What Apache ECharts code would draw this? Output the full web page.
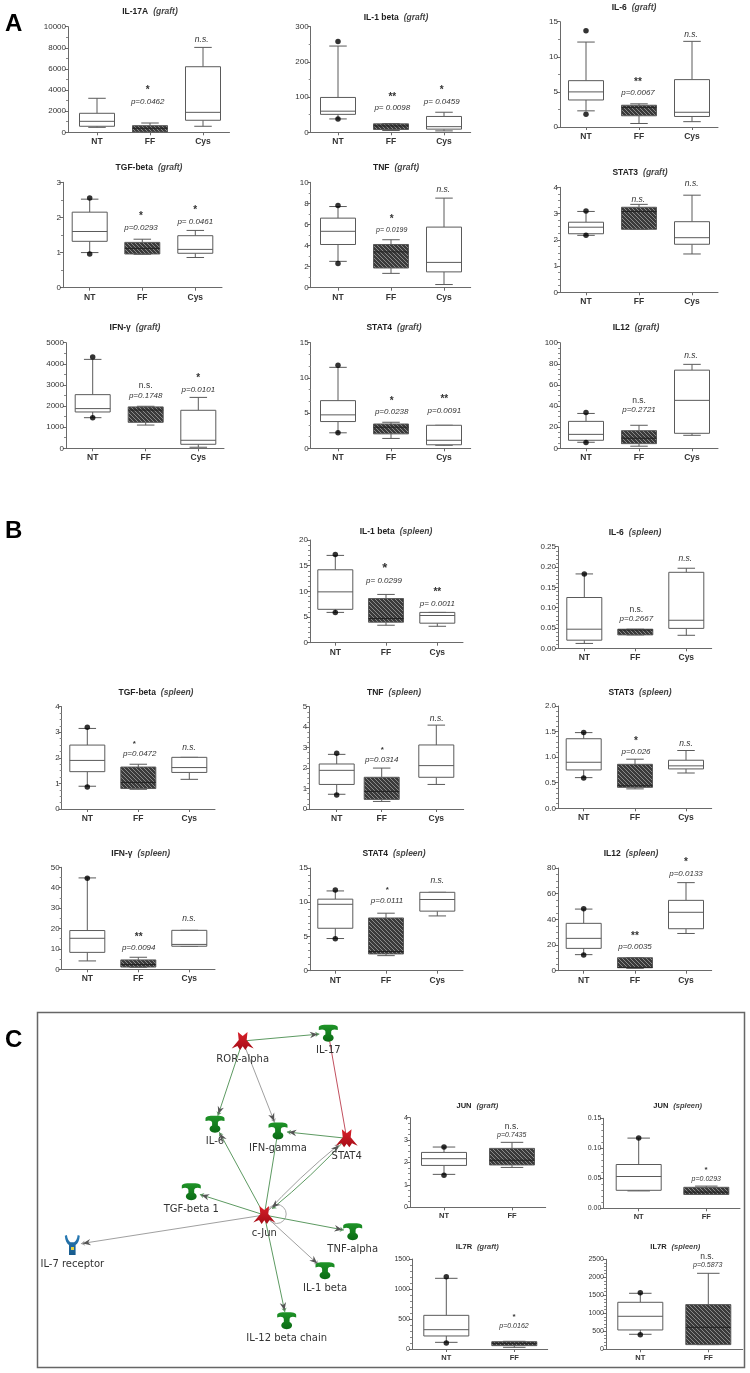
<!DOCTYPE html>
<html><head><meta charset="utf-8">
<style>html,body{margin:0;padding:0;background:#fff}#c{width:750px;height:1373px}</style>
<script src="https://cdn.jsdelivr.net/npm/echarts@6/dist/echarts.min.js"></script>
</head><body><div id="c"></div>
<script>
// ---------- data: each row is [low, q1, median, q3, high], one row per group ----------
const groups = ['NT','FF','Cys'];
const il17aGraft  = [[470,570,1040,1800,3220],[30,30,380,630,880],[570,1140,1890,6210,8040]];
const il1bGraft   = [[38,51,60,99,245],[5,8,18,24,25],[4,9,16,45,57]];
const il1bGraftDots = [258,38];
const il6Graft    = [[2.3,3.85,5.0,6.6,12.1],[0.5,1.6,2.8,3.1,3.3],[0.76,1.5,2.1,6.75,12.2]];
const il6GraftDots = [13.7,1.8];
const tgfGraft    = [[1.0,1.32,1.6,2.15,2.52],[0.95,0.96,1.12,1.29,1.38],[0.86,0.98,1.09,1.48,1.63]];
const tgfGraftDots = [2.55,0.96];
const tnfGraft    = [[2.5,4.1,5.35,6.6,7.7],[1.36,1.87,3.4,4.1,4.55],[0.3,1.5,2.4,5.75,8.5]];
const tnfGraftDots = [7.8,2.3];
const stat3Graft  = [[2.17,2.23,2.48,2.67,3.08],[2.4,2.4,3.08,3.24,3.35],[1.46,1.83,2.08,2.69,3.7]];
const stat3GraftDots = [3.1,2.17];
const ifnGraft    = [[1450,1720,1880,2540,4210],[1100,1230,1810,1960,1990],[50,190,380,1800,2410]];
const ifnGraftDots = [4320,1450];
const stat4Graft  = [[2.2,3.8,4.75,6.77,11.5],[1.4,2.05,3.0,3.45,3.7],[0.43,0.5,1.14,3.27,3.27]];
const stat4GraftDots = [11.8,2.2];
const il12Graft   = [[5.7,7.6,13.2,25.5,33],[2,4.4,9.5,16.7,21.8],[12.3,14.2,45.4,74,79.5]];
const il12GraftDots = [33.8,5.4];
const il1bSpleen  = [[5.9,6.5,9.9,14.2,17],[3.4,4,4.7,8.6,9.4],[3.2,3.8,5.3,5.9,5.9]];
const il1bSpleenDots = [17.2,5.9];
const il6Spleen   = [[0.012,0.02,0.047,0.125,0.183],[0.033,0.033,0.045,0.047,0.047],[0.032,0.049,0.069,0.187,0.197]];
const il6SpleenDots = [0.183];
const tgfSpleen   = [[0.89,1.46,1.9,2.5,3.15],[0.77,0.8,1.04,1.64,1.75],[1.16,1.43,1.62,2.02,2.02]];
const tgfSpleenDots = [3.2,0.86];
const tnfSpleen   = [[0.72,1.2,1.89,2.2,2.67],[0.37,0.47,0.86,1.55,2.0],[1.2,1.55,2.12,3.13,4.1]];
const tnfSpleenDots = [2.72,0.68];
const stat3Spleen = [[0.6,0.75,0.9,1.36,1.48],[0.38,0.41,0.44,0.86,0.96],[0.69,0.77,0.83,0.94,1.13]];
const stat3SpleenDots = [1.48,0.59];
const ifnSpleen   = [[4.1,8.3,15.2,19,44.8],[1,1.1,2.3,4.6,5.9],[11.3,11.3,12.2,19.1,19.1]];
const ifnSpleenDots = [44.6];
const stat4Spleen = [[4.7,6.2,9.7,10.45,11.65],[2.2,2.45,2.8,7.7,8.4],[8,8.7,10.4,11.45,11.45]];
const stat4SpleenDots = [11.8,4.68];
const il12Spleen  = [[12.5,17.4,25.2,36.9,48],[1.8,2.3,2.6,10.1,10.1],[29,32.7,45.5,54.8,68.6]];
const il12SpleenDots = [48.3,12.2];
const junGraft    = [[1.47,1.87,2.17,2.45,2.69],[1.78,1.89,2.1,2.63,2.9]];
const junGraftDots = [2.69,1.43];
const junSpleen   = [[0.029,0.03,0.053,0.073,0.117],[0.023,0.023,0.027,0.035,0.037]];
const junSpleenDots = [0.117];
const il7rGraft   = [[111,217,322,561,1178],[28,56,94,122,128]];
const il7rGraftDots = [1205,100];
const il7rSpleen  = [[417,537,917,1306,1556],[130,130,611,1241,2111]];
const il7rSpleenDots = [1574,407];

// ---------- panel layout ----------
const panels = [
 {n:'IL-17A',t:'graft',b:il17aGraft,d:[],max:10000,step:2000,minor:2,l:68,r:229.5,top:26.7,zero:132.3,cx:[97,150,203],tx:150,ty:12},
 {n:'IL-1 beta',t:'graft',b:il1bGraft,d:il1bGraftDots,max:300,step:100,minor:2,l:310.7,r:470.7,top:26.7,zero:132.3,cx:[338,391,444],tx:396,ty:18},
 {n:'IL-6',t:'graft',b:il6Graft,d:il6GraftDots,max:15,step:5,minor:2,l:560,r:718,top:21.7,zero:127,cx:[586,639,692],tx:634,ty:8},
 {n:'TGF-beta',t:'graft',b:tgfGraft,d:tgfGraftDots,max:3,step:1,minor:2,l:63,r:222,top:182.3,zero:287.7,cx:[89.7,142.3,195.3],tx:149,ty:168},
 {n:'TNF',t:'graft',b:tnfGraft,d:tnfGraftDots,max:10,step:2,minor:2,l:310.7,r:470.7,top:182.3,zero:287.7,cx:[338,391,444],tx:396,ty:168},
 {n:'STAT3',t:'graft',b:stat3Graft,d:stat3GraftDots,max:4,step:1,minor:4,l:560,r:718,top:187.3,zero:292.3,cx:[586,639,692],tx:640,ty:173},
 {n:'IFN-γ',t:'graft',b:ifnGraft,d:ifnGraftDots,max:5000,step:1000,minor:2,l:66,r:224,top:342.7,zero:448.3,cx:[92.7,145.7,198.3],tx:135,ty:328},
 {n:'STAT4',t:'graft',b:stat4Graft,d:stat4GraftDots,max:15,step:5,minor:3,l:310.7,r:470.7,top:342.7,zero:448.3,cx:[338,391,444],tx:394,ty:328},
 {n:'IL12',t:'graft',b:il12Graft,d:il12GraftDots,max:100,step:20,minor:4,l:560,r:718,top:342.7,zero:448.3,cx:[586,639,692],tx:636,ty:328},
 {n:'IL-1 beta',t:'spleen',b:il1bSpleen,d:il1bSpleenDots,max:20,step:5,minor:5,l:310,r:463,top:540,zero:642.7,cx:[335.3,386,437.3],tx:396,ty:531.7},
 {n:'IL-6',t:'spleen',b:il6Spleen,d:il6SpleenDots,max:0.25,step:0.05,minor:5,l:558,r:711.7,top:546.7,zero:648.3,cx:[584.3,635.3,686.3],tx:635,ty:532.3},
 {n:'TGF-beta',t:'spleen',b:tgfSpleen,d:tgfSpleenDots,max:4,step:1,minor:4,l:61.7,r:215,top:706.7,zero:809,cx:[87.3,138.3,189.3],tx:156,ty:692.3},
 {n:'TNF',t:'spleen',b:tnfSpleen,d:tnfSpleenDots,max:5,step:1,minor:4,l:309.3,r:463.7,top:706.7,zero:809,cx:[336.7,381.7,436.3],tx:394,ty:692.3},
 {n:'STAT3',t:'spleen',b:stat3Spleen,d:stat3SpleenDots,max:2,step:0.5,minor:5,l:558,r:711.7,top:706,zero:808.3,cx:[583.7,635,686],tx:640,ty:692.3},
 {n:'IFN-γ',t:'spleen',b:ifnSpleen,d:ifnSpleenDots,max:50,step:10,minor:2,l:61.7,r:215,top:867.3,zero:969.3,cx:[87.3,138.3,189.3],tx:140.7,ty:853.7},
 {n:'STAT4',t:'spleen',b:stat4Spleen,d:stat4SpleenDots,max:15,step:5,minor:5,l:310,r:463,top:868,zero:970.7,cx:[335.3,386,437.3],tx:394,ty:853.7},
 {n:'IL12',t:'spleen',b:il12Spleen,d:il12SpleenDots,max:80,step:20,minor:4,l:558,r:711.7,top:868,zero:970.7,cx:[583.7,635,686],tx:631,ty:853.7},
 {n:'JUN',t:'graft',b:junGraft,d:junGraftDots,max:4,step:1,minor:4,l:410,r:545.7,top:1117.7,zero:1207.3,cx:[444,512],tx:477.3,ty:1106,small:1},
 {n:'JUN',t:'spleen',b:junSpleen,d:junSpleenDots,max:0.15,step:0.05,minor:5,l:603.3,r:740,top:1118.3,zero:1208.3,cx:[638.7,706.3],tx:677.7,ty:1106,small:1},
 {n:'IL7R',t:'graft',b:il7rGraft,d:il7rGraftDots,max:1500,step:500,minor:5,l:412,r:547.7,top:1259,zero:1349,cx:[446.3,514.3],tx:477.3,ty:1247,small:1},
 {n:'IL7R',t:'spleen',b:il7rSpleen,d:il7rSpleenDots,max:2500,step:500,minor:5,l:606,r:742.7,top:1259.3,zero:1349.3,cx:[640.3,708.3],tx:675.3,ty:1247,small:1}
];

// ---------- annotations: [text, kind, x, y] ----------
const notes = [
 ['*','s',147.7,88],['p=0.0462','p',147.7,102],['n.s.','i',201.7,40],
 ['**','s',392.3,94.3],['p= 0.0098','p',392.3,108],['*','s',441.7,88],['p= 0.0459','p',441.7,101.7],
 ['**','s',638,79.3],['p=0.0067','p',638,93],['n.s.','i',691,35],
 ['*','s',141,213.7],['p=0.0293','p',141,227.7],['*','s',195.3,208],['p= 0.0461','p',195.3,222],
 ['*','s',391.7,216.7],['p= 0.0199','q',391.7,230],['n.s.','i',443.3,189.3],
 ['n.s.','i',638.3,200],['n.s.','i',691.7,184],
 ['n.s.','r',145.7,385.7],['p=0.1748','p',145.7,395.3],['*','s',198.3,376],['p=0.0101','p',198.3,390],
 ['*','s',391.7,398.3],['p=0.0238','p',391.7,412],['**','s',444.3,396.3],['p=0.0091','p',444.3,410.7],
 ['n.s.','r',639,400.3],['p=0.2721','p',639,410],['n.s.','i',691,355.7],
 ['*','S',384.7,565],['p= 0.0299','p',384,581],['**','s',437.3,589.7],['p= 0.0011','p',437.3,603.3],
 ['n.s.','i',685.3,559],['n.s.','r',636.3,610],['p=0.2667','p',636.3,619],
 ['*','t',134.3,741.7],['p=0.0472','p',139.7,753.3],['n.s.','i',189,747.3],
 ['*','t',382.3,747.7],['p=0.0314','p',381.7,759.3],['n.s.','i',436.7,719],
 ['*','s',636,738.3],['p=0.026','p',636,751.3],['n.s.','i',686,743.3],
 ['**','s',138.7,934.3],['p=0.0094','p',138.7,947.7],['n.s.','i',189,919],
 ['*','t',387.3,887.3],['p=0.0111','p',387,900.7],['n.s.','i',437.3,881],
 ['*','s',686,859.3],['p=0.0133','p',686,874],['**','s',635,933.3],['p=0.0035','p',635,946.7],
 ['n.s.','r',511.7,1126.7],['p=0.7435','q',511.7,1134.7],
 ['*','t',706,1167.3],['p=0.0293','q',706.3,1179.3],
 ['*','t',514,1314.3],['p=0.0162','q',514,1326.3],
 ['n.s.','r',707,1256.7],['p=0.5873','q',707.7,1265]
];

// ---------- network ----------
const netNodes = [
 ['ROR-alpha',242.7,1041,'tf'],['IL-17',328.3,1033.3,'cy'],['IL-6',215,1124.3,'cy'],['IFN-gamma',278,1131,'cy'],
 ['STAT4',346.7,1138.3,'tf'],['TGF-beta 1',191.3,1191.7,'cy'],['c-Jun',264.3,1215,'tf'],['TNF-alpha',352.7,1231.7,'cy'],
 ['IL-1 beta',325,1270.7,'cy'],['IL-12 beta chain',286.7,1320.7,'cy'],['IL-7 receptor',72.3,1245,'rc']
];
const netEdges = [
 ['ROR-alpha','IL-17','g',1],['ROR-alpha','IL-6','g',1],['ROR-alpha','IFN-gamma','k',1],
 ['STAT4','IFN-gamma','g',1],['STAT4','IL-17','r',0],['STAT4','c-Jun','g',1],['c-Jun','STAT4','k',1],
 ['c-Jun','IL-6','g',1],['c-Jun','IFN-gamma','g',0],['c-Jun','TGF-beta 1','g',1],['c-Jun','TNF-alpha','g',1],
 ['c-Jun','IL-1 beta','k',1],['c-Jun','IL-12 beta chain','g',1],['c-Jun','IL-7 receptor','k',1]
];

// ---------- drawing ----------
const FONT = '"Liberation Sans",Arial,sans-serif';
const AXIS = '#6a6a6a', BOXLINE = '#5a5a5a', TXT = '#333';
function hatchTile(){
  const c = document.createElement('canvas'); c.width = c.height = 4;
  const g = c.getContext('2d');
  g.fillStyle = '#3a3a3a'; g.fillRect(0,0,4,4);
  g.strokeStyle = '#8a8a8a'; g.lineWidth = 1;
  g.beginPath(); g.moveTo(-1,-1); g.lineTo(5,5); g.moveTo(-1,3); g.lineTo(1,5); g.moveTo(3,-1); g.lineTo(5,1); g.stroke();
  return {image:c, repeat:'repeat'};
}
const hatch = hatchTile();
const vGrad = (a,b)=>new echarts.graphic.LinearGradient(0,0,0,1,[{offset:0,color:a},{offset:1,color:b}]);
const PATHS = {
 cy:'path://M4,22 C4,8 20,6 50,6 C80,6 96,8 96,22 L96,34 C80,28 66,30 64,42 L64,58 C76,64 80,76 72,88 C62,100 38,100 28,88 C20,76 24,64 36,58 L36,42 C34,30 20,28 4,34 Z',
 tf:'path://M28,2 L50,24 L72,2 L68,45 L100,92 L74,78 L62,100 L50,80 L38,100 L26,78 L0,92 L32,45 Z',
 rc:'path://M0,4 L14,0 C18,20 26,32 38,36 L62,36 C74,32 82,20 86,0 L100,4 C98,28 86,44 72,50 L72,100 L28,100 L28,50 C14,44 2,28 0,4 Z'
};
const NODE = {cy:{size:[19,17],c:vGrad('#1f9428','#0a6a14')},tf:{size:[22,18],c:vGrad('#d8202a','#a50c16')},rc:{size:[15,20],c:vGrad('#2a7cb6','#175a8c')}};
const EDGE = {g:'#5d9a62',k:'#a0a0a0',r:'#c2505f'};

const grid=[],xAxis=[],yAxis=[],series=[],title=[],graphic=[];
panels.forEach((p,i)=>{
  const W = p.r-p.l, small = !!p.small;
  const boxW = small ? 45 : 35;
  grid.push({left:p.l,top:p.top,width:W,height:p.zero-p.top,containLabel:false});
  const pos = p.cx.map(c=>c-p.l);
  xAxis.push({type:'value',gridIndex:i,min:0,max:W,splitLine:{show:false},
    axisLine:{show:true,onZero:false,lineStyle:{color:AXIS,width:1}},
    axisTick:{show:true,length:3,customValues:pos,lineStyle:{color:AXIS}},
    axisLabel:{customValues:pos,margin:5,color:TXT,fontFamily:FONT,fontWeight:'bold',fontSize:small?7.5:8.5,
      formatter:v=>groups[pos.findIndex(q=>Math.abs(q-v)<0.01)]||''}});
  const dec = p.step<0.1?2:(p.step<1?1:0);
  yAxis.push({type:'value',gridIndex:i,min:0,max:p.max,interval:p.step,splitLine:{show:false},
    axisLine:{show:true,lineStyle:{color:AXIS,width:1}},
    axisTick:{show:true,length:3,lineStyle:{color:AXIS}},
    minorTick:{show:true,length:2,splitNumber:p.minor,lineStyle:{color:'#888'}},minorSplitLine:{show:false},
    axisLabel:{margin:2,color:TXT,fontFamily:FONT,fontSize:small?7:8,formatter:v=>v.toFixed(dec)}});
  series.push({type:'custom',xAxisIndex:i,yAxisIndex:i,clip:false,
    encode:{x:0,y:[1,2,3,4,5]},
    data:p.b.map((r,k)=>[pos[k],...r,k]),
    renderItem:(params,api)=>{
      const x=api.value(0), pt=[1,2,3,4,5].map(d=>api.coord([x,api.value(d)]));
      const cx=pt[0][0], hw=boxW/2, cw=boxW/4;
      const isFF=api.value(6)===1;
      const ln={stroke:BOXLINE,lineWidth:1,fill:null};
      const L=(a,b,c,d,s)=>({type:'line',shape:{x1:a,y1:b,x2:c,y2:d},style:s||ln});
      const [lo,q1,me,q3,hi]=pt.map(o=>o[1]);
      return {type:'group',children:[
        L(cx,lo,cx,q1),L(cx,q3,cx,hi),L(cx-cw,lo,cx+cw,lo),L(cx-cw,hi,cx+cw,hi),
        {type:'rect',shape:{x:cx-hw,y:q3,width:boxW,height:q1-q3},style:{fill:isFF?hatch:'#fff',stroke:BOXLINE,lineWidth:1}},
        L(cx-hw,me,cx+hw,me,{stroke:isFF?'#222':BOXLINE,lineWidth:1})
      ]};
    }});
  if(p.d.length) series.push({type:'scatter',xAxisIndex:i,yAxisIndex:i,symbol:'circle',symbolSize:5.5,z:5,
    itemStyle:{color:'#000'},data:p.d.map(v=>[pos[0],v])});
  const gam=p.n.endsWith('γ');
  title.push({left:p.tx,top:p.ty,textAlign:'center',textVerticalAlign:'middle',padding:0,
    text:(gam?'{b|IFN-}{g|γ}':'{b|'+p.n+'}')+' {i|('+p.t+')}',
    textStyle:{rich:{
      b:{fontFamily:FONT,fontWeight:'bold',fontSize:small?7.5:8.5,color:'#222'},
      g:{fontFamily:FONT,fontSize:small?7.5:8.5,color:'#222'},
      i:{fontFamily:FONT,fontStyle:'italic',fontSize:small?7.5:8.5,color:'#444'}}}});
});

// network drawn with the library's graph series on a page-sized hidden grid
const gi=grid.length;
grid.push({left:0,top:0,width:750,height:1373,containLabel:false});
xAxis.push({type:'value',gridIndex:gi,min:0,max:750,show:false});
yAxis.push({type:'value',gridIndex:gi,min:0,max:1373,inverse:true,show:false});
series.push({type:'graph',coordinateSystem:'cartesian2d',xAxisIndex:gi,yAxisIndex:gi,layout:'none',roam:false,z:3,
  edgeSymbol:['none','arrow'],edgeSymbolSize:4,
  label:{show:true,position:'bottom',distance:4,fontFamily:'"DejaVu Sans",sans-serif',fontSize:10,color:'#333'},
  data:netNodes.map(n=>({name:n[0],value:[n[1],n[2]],symbol:PATHS[n[3]],symbolSize:NODE[n[3]].size,symbolKeepAspect:false,itemStyle:{color:NODE[n[3]].c}})),
  edges:netEdges.map(e=>({source:e[0],target:e[1],symbol:['none',e[3]?'arrow':'none'],
    lineStyle:{color:EDGE[e[2]],width:1,opacity:1,curveness:(e[0]==='STAT4'&&e[1]==='c-Jun')||(e[0]==='c-Jun'&&e[1]==='STAT4')?0.04:0}}))});
// dark arrowheads, positioned on the same axes from the same node table
const byName=Object.fromEntries(netNodes.map(n=>[n[0],n]));
series.push({type:'custom',xAxisIndex:gi,yAxisIndex:gi,z:4,clip:false,silent:true,
  encode:{x:[0,2],y:[1,3]},
  data:netEdges.filter(e=>e[3]).map(e=>[byName[e[0]][1],byName[e[0]][2],byName[e[1]][1],byName[e[1]][2]]),
  renderItem:(params,api)=>{
    const a=api.coord([api.value(0),api.value(1)]), b=api.coord([api.value(2),api.value(3)]);
    const dx=b[0]-a[0], dy=b[1]-a[1], len=Math.hypot(dx,dy), ux=dx/len, uy=dy/len;
    const tx=b[0]-ux*10.5, ty=b[1]-uy*10.5;
    const P=(back,side)=>[tx-ux*back-uy*side, ty-uy*back+ux*side];
    return {type:'polygon',shape:{points:[[tx,ty],P(8,3.2),P(5.5,0),P(8,-3.2)]},style:{fill:'#555'}};
  }});

// frame, panel letters, self-loop of c-Jun, receptor dot, annotations
graphic.push({type:'rect',silent:true,z:-1,shape:{x:37.5,y:1012.5,width:707,height:355},style:{fill:null,stroke:'#666',lineWidth:1.5}});
graphic.push({type:'circle',silent:true,z:2,shape:{cx:276.7,cy:1214,r:9.5},style:{fill:null,stroke:'#aaa',lineWidth:1}});
graphic.push({type:'rect',silent:true,z:10,shape:{x:71,y:1247,width:3,height:3},style:{fill:'#e8d23a'}});
[['A',5,12],['B',5,519],['C',5,1028]].forEach(t=>graphic.push({type:'text',silent:true,x:t[1],y:t[2],
  style:{text:t[0],fontFamily:FONT,fontWeight:'bold',fontSize:24,fill:'#000',textAlign:'left',textVerticalAlign:'top'}}));
const KIND={
 s:{fontSize:10,fontWeight:'bold',dy:2.5},S:{fontSize:13,fontWeight:'bold',dy:3},t:{fontSize:8,fontWeight:'bold',dy:2},
 p:{fontSize:8,fontStyle:'italic'},q:{fontSize:7,fontStyle:'italic'},i:{fontSize:8.5,fontStyle:'italic'},r:{fontSize:8.5}
};
notes.forEach(n=>{
  const k=KIND[n[1]];
  graphic.push({type:'text',silent:true,z:20,x:n[2],y:n[3]+(k.dy||0),
    style:{text:n[0],fontFamily:FONT,fontSize:k.fontSize,fontWeight:k.fontWeight||'normal',fontStyle:k.fontStyle||'normal',
      fill:'#333',textAlign:'center',textVerticalAlign:'middle'}});
});

const chart=echarts.init(document.getElementById('c'),null,{renderer:'canvas',width:750,height:1373});
chart.setOption({animation:false,backgroundColor:'#fff',title,grid,xAxis,yAxis,series,graphic});
</script></body></html>
